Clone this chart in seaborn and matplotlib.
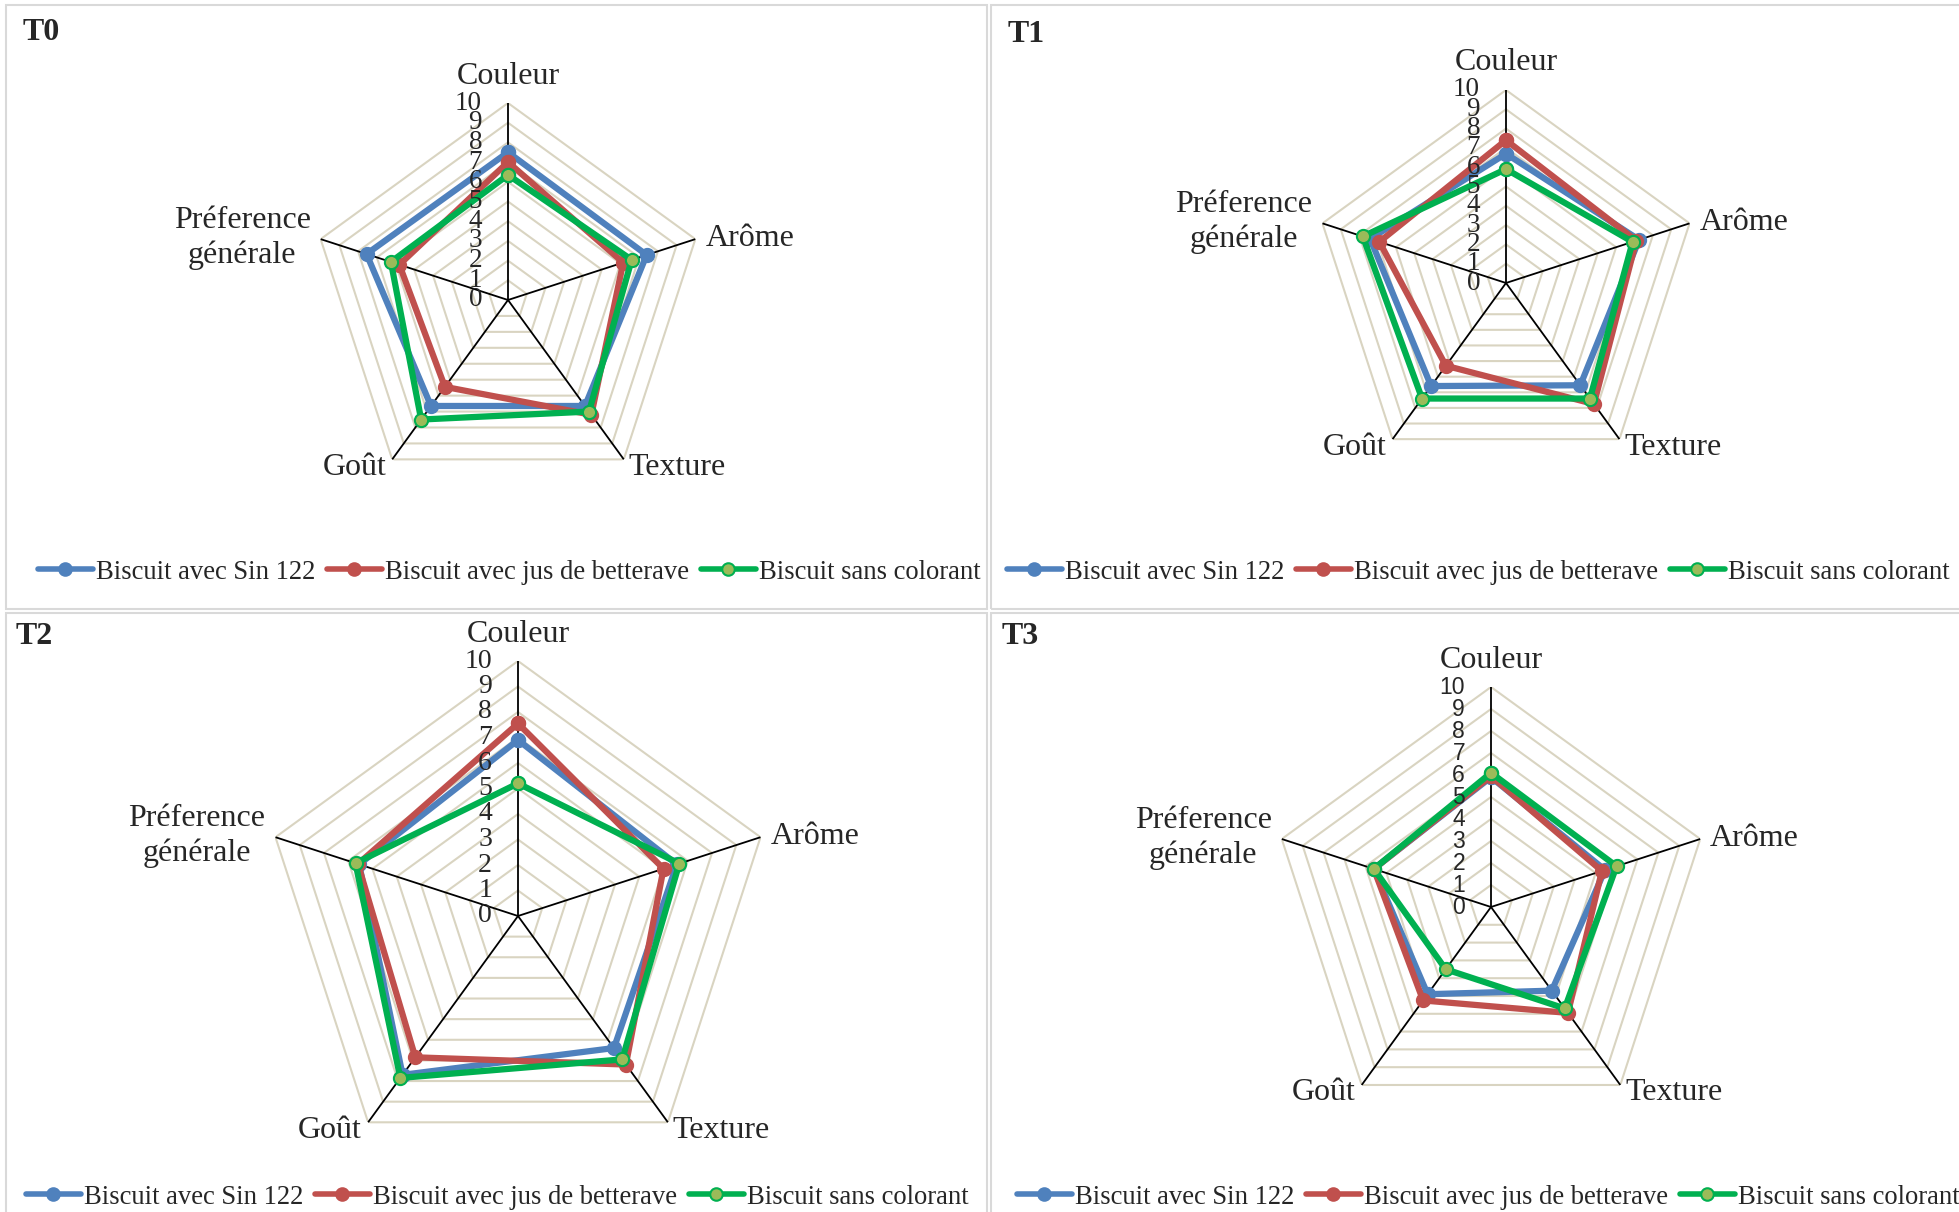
import numpy as np
import pandas as pd
import matplotlib
matplotlib.use("Agg")
import matplotlib.pyplot as plt
from matplotlib.lines import Line2D
from matplotlib.patches import Rectangle
import seaborn as sns

# ---------------- data ----------------
criteria = ["Couleur", "Arôme", "Texture", "Goût", "Préference\ngénérale"]
series_names = ["Biscuit avec Sin 122", "Biscuit avec jus de betterave", "Biscuit sans colorant"]
panel_titles = ["T0", "T1", "T2", "T3"]
score_ticks = list(range(0, 11))

t0_sin122 = [7.5, 7.4, 6.65, 6.65, 7.55]
t0_betterave = [7.0, 6.15, 7.2, 5.45, 5.8]
t0_sans = [6.35, 6.6, 7.0, 7.5, 6.25]

t1_sin122 = [6.7, 7.25, 6.55, 6.6, 7.4]
t1_betterave = [7.4, 7.1, 7.75, 5.3, 6.9]
t1_sans = [5.9, 6.9, 7.4, 7.4, 7.8]

t2_sin122 = [6.9, 6.55, 6.4, 7.7, 6.55]
t2_betterave = [7.55, 6.0, 7.2, 6.85, 6.6]
t2_sans = [5.2, 6.65, 6.95, 7.85, 6.7]

t3_sin122 = [5.9, 5.45, 4.7, 4.9, 5.6]
t3_betterave = [5.95, 5.3, 5.95, 5.25, 5.6]
t3_sans = [6.1, 6.0, 5.7, 3.5, 5.6]

panel_values = [
    [t0_sin122, t0_betterave, t0_sans],
    [t1_sin122, t1_betterave, t1_sans],
    [t2_sin122, t2_betterave, t2_sans],
    [t3_sin122, t3_betterave, t3_sans],
]

# ---------------- styles ----------------
line_colors = ["#4F81BD", "#C0504D", "#00B050"]
marker_faces = ["#4F81BD", "#C0504D", "#9BBB59"]
grid_color = "#D9D4C1"
frame_color = "#D9D9D9"
SERIF = "Liberation Serif"
SANS = "Liberation Sans"

W, H = 1959, 1212
sns.set_style("white")
plt.rcParams["font.family"] = [SERIF, "DejaVu Serif"]

fig = plt.figure(figsize=(W / 100, H / 100), dpi=100)
fig.patch.set_facecolor("white")


def fx(px):
    return px / W


def fy(py):
    return 1 - py / H


# panel layout in pixels: frame box, radar centre/radius, title, legend
panels = [
    dict(box=(6, 5, 987, 609), c=(508, 300), R=197, title=(23, 32), leg=(509, 572), tick_font=(SERIF, 19.5)),
    dict(box=(991, 5, 1975, 609), c=(1506, 283), R=193, title=(1008, 35), leg=(1478, 572), tick_font=(SERIF, 19.5)),
    dict(box=(6, 613, 987, 1230), c=(518, 916), R=255, title=(16, 637), leg=(497, 1197), tick_font=(SERIF, 20)),
    dict(box=(991, 613, 1975, 1230), c=(1491, 907), R=220, title=(1002, 637), leg=(1488, 1197), tick_font=(SANS, 16.5)),
]

n = len(criteria)
angles = np.linspace(0, 2 * np.pi, n, endpoint=False)
closed_angles = np.append(angles, angles[0])

label_offsets = [
    ((0, 27), "center", "center"),
    ((10, 1), "left", "center"),
    ((5, -8), "left", "center"),
    ((-6, -8), "right", "center"),
    ((-10, 1), "right", "center"),
]

for p, title, values in zip(panels, panel_titles, panel_values):
    x0, y0, x1, y1 = p["box"]
    fig.patches.append(Rectangle((fx(x0), fy(y1)), (x1 - x0) / W, (y1 - y0) / H,
                                 transform=fig.transFigure, fill=False,
                                 edgecolor=frame_color, lw=1.5, zorder=0))
    cx, cy = p["c"]
    R = p["R"]
    ax = fig.add_axes([fx(cx - R), fy(cy + R), 2 * R / W, 2 * R / H], projection="polar")
    ax.set_theta_offset(np.pi / 2)
    ax.set_theta_direction(-1)
    ax.set_facecolor("none")
    for sp in ax.spines.values():
        sp.set_visible(False)
    ax.grid(False)

    # polygonal grid and spokes
    for k in score_ticks[1:]:
        ax.plot(closed_angles, [k] * (n + 1), color=grid_color, lw=1.5, zorder=1)
    for a in angles:
        ax.plot([a, a], [0, 10], color="black", lw=1.3, zorder=2)

    # series
    for vals, name, lc, mf in zip(values, series_names, line_colors, marker_faces):
        df = pd.DataFrame({"angle": closed_angles, "score": vals + [vals[0]]})
        sns.lineplot(data=df, x="angle", y="score", sort=False, estimator=None,
                     color=lc, lw=4.5, marker="o", markersize=9.5,
                     markerfacecolor=mf, markeredgecolor=lc, markeredgewidth=1.5,
                     ax=ax, zorder=3, legend=False)

    ax.set_ylim(0, 10)
    ax.set_xticks([])
    ax.set_yticks([])
    ax.set_xlabel("")
    ax.set_ylabel("")

    # criterion labels
    for a, lab, (off, ha, va) in zip(angles, criteria, label_offsets):
        ax.annotate(lab, xy=(a, 10), xytext=off, textcoords="offset pixels",
                    ha=ha, va=va, fontsize=23, family=SERIF, multialignment="center",
                    linespacing=1.25, annotation_clip=False, zorder=5)

    # score ticks along the first axis
    tf, ts = p["tick_font"]
    for k in score_ticks:
        ax.annotate(str(k), xy=(0, k), xytext=(-26, 0), textcoords="offset pixels",
                    ha="right", va="center", fontsize=ts, family=tf,
                    annotation_clip=False, zorder=5)

    # panel title
    tx, ty = p["title"]
    fig.text(fx(tx), fy(ty), title, ha="left", va="center", fontsize=23,
             fontweight="bold", family=SERIF)

    # legend
    handles = [Line2D([], [], color=lc, lw=4, marker="o", markersize=9,
                      markerfacecolor=mf, markeredgecolor=lc, markeredgewidth=1.5)
               for lc, mf in zip(line_colors, marker_faces)]
    lx, ly = p["leg"]
    fig.legend(handles, series_names, loc="center", bbox_to_anchor=(fx(lx), fy(ly)),
               ncol=3, frameon=False, handlelength=2.06, handletextpad=0.11,
               columnspacing=0.45, borderpad=0, borderaxespad=0,
               prop={"family": SERIF, "size": 19.2})

fig.savefig("out.png", dpi=100, facecolor="white")
